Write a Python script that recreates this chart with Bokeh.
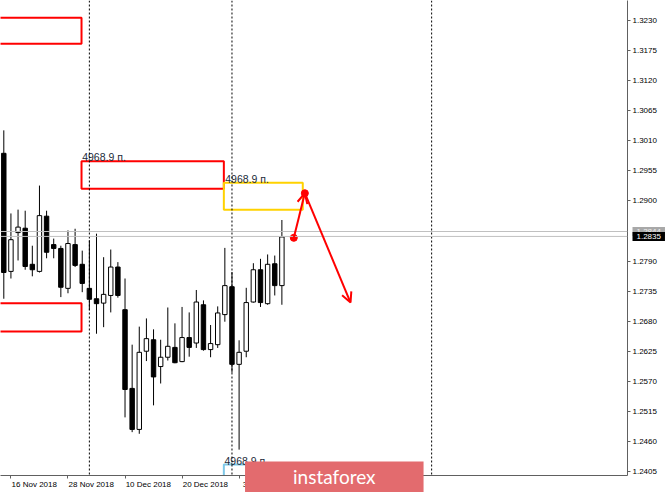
from bokeh.plotting import figure
from bokeh.models import (ColumnDataSource, FixedTicker, Span, Arrow, OpenHead,
                          Label, NumeralTickFormatter, GlobalInlineStyleSheet)
from bokeh.core.properties import value
from bokeh.embed import file_html
from bokeh.resources import INLINE

# ---- daily candles (index 0 = 15 Nov 2018) ----
bar_index = list(range(40))
opens = [1.2987, 1.2771, 1.2842, 1.2850, 1.2784, 1.2771, 1.2872, 1.2820, 1.2813, 1.2740,
         1.2820, 1.2784, 1.2740, 1.2721, 1.2713, 1.2727, 1.2779, 1.2701, 1.2557, 1.2482,
         1.2625, 1.2646, 1.2597, 1.2614, 1.2632, 1.2606, 1.2650, 1.2640, 1.2710, 1.2628,
         1.2637, 1.2692, 1.2743, 1.2601, 1.2625, 1.2715, 1.2774, 1.2712, 1.2785, 1.2745]
highs = [1.3029, 1.2877, 1.2884, 1.2882, 1.2818, 1.2928, 1.2882, 1.2831, 1.2818, 1.2846,
         1.2849, 1.2809, 1.2828, 1.2840, 1.2797, 1.2811, 1.2788, 1.2758, 1.2637, 1.2670,
         1.2685, 1.2665, 1.2646, 1.2705, 1.2676, 1.2706, 1.2696, 1.2737, 1.2718, 1.2673,
         1.2707, 1.2814, 1.2770, 1.2645, 1.2741, 1.2786, 1.2794, 1.2802, 1.2800, 1.2865]
lows = [1.2721, 1.2758, 1.2791, 1.2774, 1.2762, 1.2769, 1.2795, 1.2795, 1.2724, 1.2731,
        1.2779, 1.2733, 1.2700, 1.2657, 1.2669, 1.2696, 1.2723, 1.2504, 1.2477, 1.2474,
        1.2607, 1.2526, 1.2566, 1.2608, 1.2603, 1.2605, 1.2615, 1.2631, 1.2626, 1.2614,
        1.2631, 1.2679, 1.2586, 1.2445, 1.2614, 1.2714, 1.2706, 1.2710, 1.2727, 1.2710]
closes = [1.2769, 1.2829, 1.2852, 1.2780, 1.2774, 1.2873, 1.2806, 1.2813, 1.2742, 1.2822,
          1.2782, 1.2749, 1.2720, 1.2712, 1.2729, 1.2779, 1.2727, 1.2555, 1.2482, 1.2623,
          1.2648, 1.2578, 1.2614, 1.2634, 1.2604, 1.2650, 1.2632, 1.2715, 1.2628, 1.2639,
          1.2695, 1.2745, 1.2601, 1.2623, 1.2714, 1.2774, 1.2714, 1.2784, 1.2745, 1.2834]

# axes
price_ticks = [1.2405, 1.2460, 1.2515, 1.2570, 1.2625, 1.2680, 1.2735, 1.2790,
               1.2900, 1.2955, 1.3010, 1.3065, 1.3120, 1.3175, 1.3230]
date_tick_index = [1, 9, 17, 25, 33]
date_tick_labels = ["16 Nov 2018", "28 Nov 2018", "10 Dec 2018", "20 Dec 2018", "3 Jan 2019"]
period_separators = [12, 32, 60]

bid_price = 1.2835
ask_price = 1.2844

# zones drawn on the chart
zone_left = [-2.0, 10.9, -2.0, 30.86, 30.86]
zone_right = [10.9, 30.86, 10.9, 41.93, 41.93]
zone_top = [1.32348, 1.29725, 1.27128, 1.29330, 1.24178]
zone_bottom = [1.31873, 1.29221, 1.26611, 1.28837, 1.22000]
zone_color = ["#FF0000", "#FF0000", "#FF0000", "#FFD200", "#7EC8E8"]

zone_label_x = [10.99, 31.05, 30.95]
zone_label_y = [1.29811, 1.29403, 1.24251]
zone_label_text = ["4968.9 п.", "4968.9 п.", "4968.9 п."]

# forecast path (start, peak, target)
path_x = [40.67, 42.22, 48.63]
path_y = [1.28324, 1.29140, 1.27141]

X_MIN, X_MAX = -0.463, 87.47
Y_MIN, Y_MAX = 1.23977, 1.32665

p = figure(frame_width=627, frame_height=475, output_backend="svg", toolbar_location=None,
           x_range=(X_MIN, X_MAX), y_range=(Y_MIN, Y_MAX),
           y_axis_location="right", min_border_left=0, min_border_top=0,
           min_border_right=38, min_border_bottom=17)
# the tag / banner panels lie past the window edge; keep the page from scrolling
p.stylesheets = [GlobalInlineStyleSheet(css="html, body { margin: 0; overflow: hidden; }")]
p.background_fill_color = "white"
p.border_fill_color = "white"
p.outline_line_color = None
p.xgrid.visible = False
p.ygrid.visible = False

# period separators
for s in period_separators:
    p.add_layout(Span(location=s, dimension="height", line_color="#000000",
                      line_width=1, line_dash="2 2"))

# bid / ask lines
for lv in (ask_price, bid_price):
    p.add_layout(Span(location=lv, dimension="width", line_color="#C0C0C0", line_width=1))

# candles
tops = [max(o, c) for o, c in zip(opens, closes)]
bottoms = [min(o, c) for o, c in zip(opens, closes)]
fills = ["white" if c >= o else "black" for o, c in zip(opens, closes)]
src = ColumnDataSource(dict(x=bar_index, high=highs, low=lows, top=tops,
                            bottom=bottoms, fill=fills))
p.segment(x0="x", y0="high", x1="x", y1="low", source=src, line_color="#000000", line_width=1)
p.vbar(x="x", width=0.62, top="top", bottom="bottom", source=src,
       fill_color="fill", line_color="#000000", line_width=1)

# zones
zsrc = ColumnDataSource(dict(left=zone_left, right=zone_right, top=zone_top,
                             bottom=zone_bottom, color=zone_color))
p.quad(left="left", right="right", top="top", bottom="bottom", source=zsrc,
       fill_color=None, line_color="color", line_width=2)

p.text(x=zone_label_x, y=zone_label_y, text=zone_label_text,
       text_font=value("Liberation Sans"), text_font_size="10.5px",
       text_color="#1c2b39", text_align="left", text_baseline="alphabetic")

# forecast arrows
p.add_layout(Arrow(end=OpenHead(size=10, line_color="#FF0000", line_width=2),
                   x_start=path_x[0], y_start=path_y[0], x_end=path_x[1], y_end=path_y[1],
                   line_color="#FF0000", line_width=2))
p.add_layout(Arrow(end=OpenHead(size=10, line_color="#FF0000", line_width=2),
                   x_start=path_x[1], y_start=path_y[1], x_end=path_x[2], y_end=path_y[2],
                   line_color="#FF0000", line_width=2))
p.scatter(x=path_x[:2], y=path_y[:2], size=7, color="#FF0000")

# price axis
p.yaxis.ticker = FixedTicker(ticks=price_ticks)
p.yaxis.formatter = NumeralTickFormatter(format="0.0000")
p.yaxis.axis_line_color = "#606060"
p.yaxis.major_tick_line_color = "#606060"
p.yaxis.major_tick_in = 0
p.yaxis.major_tick_out = 3
p.yaxis.minor_tick_line_color = None
p.yaxis.major_label_standoff = 2
p.yaxis.major_label_text_font = "Liberation Sans"
p.yaxis.major_label_text_font_size = "8px"
p.yaxis.major_label_text_color = "#000000"

# date axis: small tick marks at the bars (minor ticks), labels start at each tick
label_shift = 3.27  # half a label width, in bars
date_label_pos = [t + label_shift for t in date_tick_index]
p.xaxis.ticker = FixedTicker(ticks=date_label_pos, minor_ticks=date_tick_index)
p.xaxis.major_label_overrides = {pos: t for pos, t in zip(date_label_pos, date_tick_labels)}
p.xaxis.axis_line_color = "#606060"
p.xaxis.major_tick_line_color = None
p.xaxis.major_tick_in = 0
p.xaxis.major_tick_out = 3
p.xaxis.minor_tick_line_color = "#606060"
p.xaxis.minor_tick_in = 0
p.xaxis.minor_tick_out = 3
p.xaxis.major_label_standoff = 1
p.xaxis.major_label_text_font = "Liberation Sans"
p.xaxis.major_label_text_font_size = "8px"
p.xaxis.major_label_text_color = "#000000"

# price tags on the axis
p.add_layout(Label(x=X_MAX, y=ask_price, x_offset=5, text="1.2844", text_color="#F0F0F0",
                   background_fill_color="#A8A8A8", text_font_size="8px",
                   text_font="Liberation Sans", text_baseline="middle", padding=(4, 2)), "right")
p.add_layout(Label(x=X_MAX, y=bid_price, x_offset=5, text="1.2835", text_color="#FFFFFF",
                   background_fill_color="#000000", text_font_size="8px",
                   text_font="Liberation Sans", text_baseline="middle", padding=(4, 2)), "right")

# watermark banner
p.add_layout(Label(x=46.35, y=1.23951, text="instaforex", text_color="#FFFFFF",
                   text_font="Lato", text_font_size="19px", text_align="center",
                   text_baseline="middle", background_fill_color="#E36B6E",
                   padding=(48, 4)), "below")

open("out.html", "w").write(file_html(p, INLINE))
